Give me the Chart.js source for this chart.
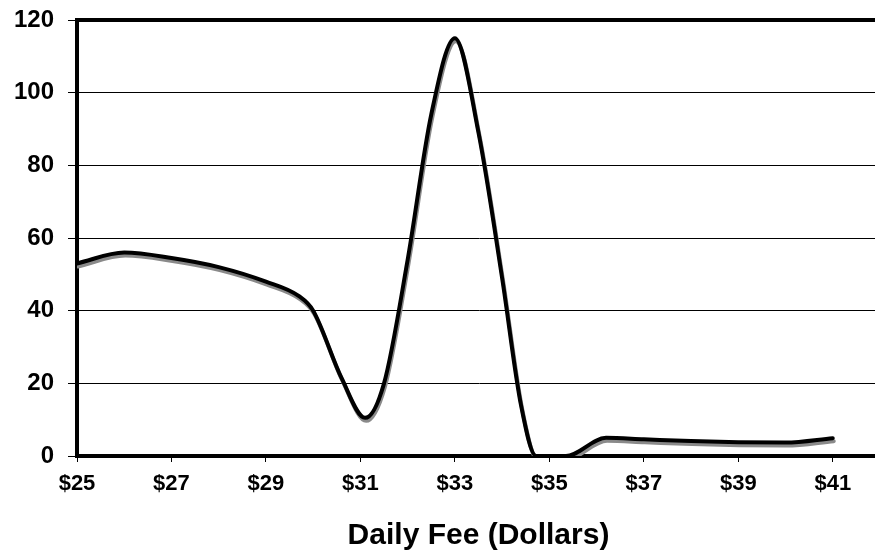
<!DOCTYPE html>
<html>
<head>
<meta charset="utf-8">
<script src="https://cdn.jsdelivr.net/npm/chart.js@4.4.1/dist/chart.umd.min.js"></script>
<style>
  html, body { margin: 0; padding: 0; background: #fff; overflow: hidden; }
  #wrap { width: 900px; height: 554px; }
</style>
</head>
<body>
<div id="wrap"><canvas id="c" width="900" height="554"></canvas></div>
<script>
// Daily fee (dollars) and the measured value at each fee
const fees   = [25, 26, 27, 28, 29, 29.7, 30, 30.6, 31.1, 31.5, 32, 32.5, 33, 33.5, 34, 34.4, 34.72, 35.35, 36.2, 37, 38, 39, 40, 41];
const values = [53, 56, 54.5, 52, 48, 44, 40, 21.5, 10.5, 20, 54, 94, 115, 89, 49, 14, 0, 0, 5, 4.6, 4.1, 3.8, 3.7, 4.9];

// Axis ticks
const feeTicks   = [25, 27, 29, 31, 33, 35, 37, 39, 41];
const valueTicks = [0, 20, 40, 60, 80, 100, 120];

const points = fees.map((f, i) => ({ x: f, y: values[i] }));

const FONT = "'Liberation Sans', Arial, sans-serif";

// Drop shadow under the line, plus a heavy frame line along the top of the plot
const lineShadow = {
  id: 'lineShadow',
  beforeDatasetDraw(chart) {
    const ctx = chart.ctx;
    ctx.save();
    ctx.shadowColor = '#8a8a8a';
    ctx.shadowOffsetX = 1;
    ctx.shadowOffsetY = 3;
    ctx.shadowBlur = 0;
  },
  afterDatasetDraw(chart) {
    chart.ctx.restore();
  },
  beforeDatasetsDraw(chart) {
    const { ctx, chartArea } = chart;
    ctx.save();
    ctx.strokeStyle = '#000';
    ctx.lineWidth = 4;
    ctx.beginPath();
    ctx.moveTo(chartArea.left - 2, chartArea.top);
    ctx.lineTo(chartArea.right + 2, chartArea.top);
    ctx.stroke();
    ctx.restore();
  }
};

new Chart(document.getElementById('c'), {
  type: 'line',
  data: {
    datasets: [{
      data: points,
      borderColor: '#000',
      borderWidth: 4,
      borderCapStyle: 'round',
      borderJoinStyle: 'round',
      cubicInterpolationMode: 'monotone',
      pointRadius: 0,
      fill: false,
      clip: 0
    }]
  },
  options: {
    responsive: false,
    animation: false,
    events: [],
    layout: { padding: { top: 20, right: 20, left: 0, bottom: 0 } },
    plugins: { legend: { display: false }, tooltip: { enabled: false } },
    scales: {
      x: {
        type: 'linear',
        min: 25,
        max: 42,
        afterBuildTicks(scale) { scale.ticks = feeTicks.map(v => ({ value: v })); },
        afterFit(scale) {
          scale.height = 98;
          scale.paddingLeft = 0;
          scale.paddingRight = 0;
        },
        grid: { drawOnChartArea: false, drawTicks: true, tickLength: 6, color: '#000', lineWidth: 1 },
        border: { display: true, color: '#000', width: 4 },
        ticks: {
          color: '#000',
          padding: 9,
          maxRotation: 0,
          autoSkip: false,
          font: { family: FONT, size: 22, weight: 'bold' },
          callback: v => '$' + v
        },
        title: {
          display: true,
          text: 'Daily Fee (Dollars)',
          color: '#000',
          font: { family: FONT, size: 30, weight: 'bold' },
          padding: { top: 0, bottom: 0 }
        }
      },
      y: {
        min: 0,
        max: 120,
        afterBuildTicks(scale) { scale.ticks = valueTicks.map(v => ({ value: v })); },
        afterFit(scale) {
          scale.width = 77;
          scale.paddingTop = 0;
          scale.paddingBottom = 0;
        },
        grid: { color: '#000', lineWidth: 1, drawTicks: true, tickLength: 9 },
        border: { display: true, color: '#000', width: 4 },
        ticks: {
          color: '#000',
          padding: 14,
          font: { family: FONT, size: 24, weight: 'bold' }
        }
      }
    }
  },
  plugins: [lineShadow]
});
</script>
</body>
</html>
